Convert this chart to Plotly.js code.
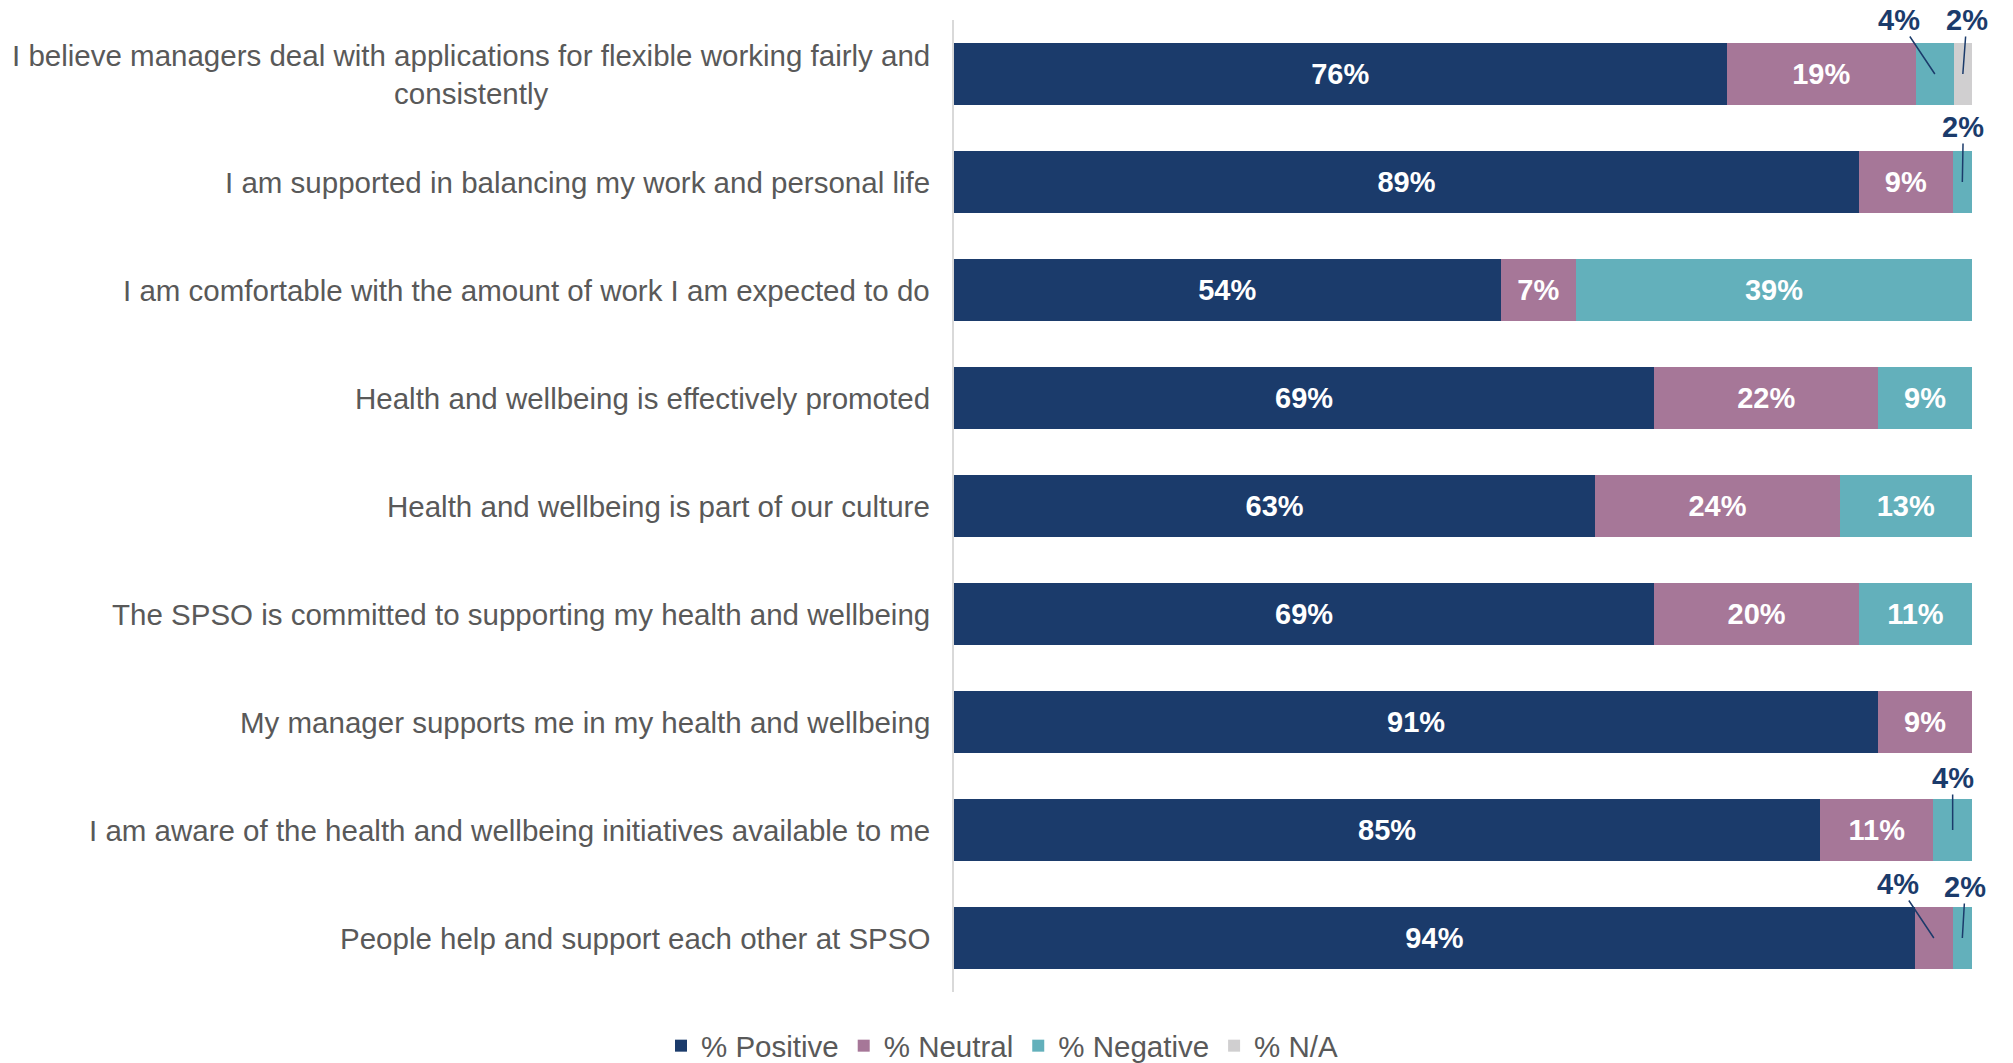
<!DOCTYPE html>
<html>
<head>
<meta charset="utf-8">
<script src="https://cdn.plot.ly/plotly-3.0.1.min.js"></script>
<style>
  html, body { margin: 0; padding: 0; background: #fff; }
  #chart { width: 2013px; height: 1063px; }
</style>
</head>
<body>
<div id="chart"></div>
<script>
// statements, top to bottom
var statements = [
    'I believe managers deal with applications for flexible working fairly and<br>consistently',
    'I am supported in balancing my work and personal life',
    'I am comfortable with the amount of work I am expected to do',
    'Health and wellbeing is effectively promoted',
    'Health and wellbeing is part of our culture',
    'The SPSO is committed to supporting my health and wellbeing',
    'My manager supports me in my health and wellbeing',
    'I am aware of the health and wellbeing initiatives available to me',
    'People help and support each other at SPSO'
];

// shares (labels are the rounded values)
var positive = [75.9, 88.9, 53.7, 68.8, 63.0, 68.8, 90.8, 85.1, 94.4];
var neutral  = [18.6, 9.2, 7.4, 22.0, 24.0, 20.1, 9.2, 11.1, 3.7];
var negative = [3.7, 1.9, 38.9, 9.2, 13.0, 11.1, 0, 3.8, 1.9];
var notApp   = [1.8, 0, 0, 0, 0, 0, 0, 0, 0];

var seriesNames = ['% Positive', '% Neutral', '% Negative', '% N/A'];
var seriesValues = [positive, neutral, negative, notApp];
var seriesColors = ['#1b3b6b', '#a67798', '#63b0bb', '#d0cfd0'];

var labelFont = 'Liberation Sans, Arial, sans-serif';
var small = 5; // segments below this get a callout instead of an inside label

// callout offsets (text position relative to segment centre), by row|series
var calloutOffsets = {
    '0|2': [-36, -54], '0|3': [4, -54],
    '1|2': [1, -55],
    '7|2': [0, -52],
    '8|1': [-36, -54], '8|2': [3, -51]
};

var data = seriesValues.map(function (vals, s) {
    return {
        type: 'bar',
        orientation: 'h',
        name: seriesNames[s],
        x: vals,
        y: statements,
        text: vals.map(v => v >= small ? Math.round(v) + '%' : ''),
        textposition: 'inside',
        insidetextanchor: 'middle',
        constraintext: 'none',
        textfont: {family: labelFont, size: 29, color: '#ffffff', weight: 'bold'},
        marker: {color: seriesColors[s], line: {width: 0}},
        hoverinfo: 'skip'
    };
});

var annotations = [];

// category labels, right aligned against the axis, lines centred
statements.forEach(function (st) {
    annotations.push({
        xref: 'paper', yref: 'y',
        x: 0, y: st,
        xanchor: 'right', yanchor: 'middle',
        xshift: -22,
        align: 'center',
        showarrow: false,
        text: st,
        font: {family: labelFont, size: 29.5, color: '#595959'}
    });
});

// callouts for the thin segments
statements.forEach(function (st, r) {
    var start = 0;
    seriesValues.forEach(function (vals, s) {
        var v = vals[r];
        if (v > 0 && v < small) {
            var off = calloutOffsets[r + '|' + s] || [0, -52];
            annotations.push({
                xref: 'x', yref: 'y',
                x: start + v / 2, y: st,
                ax: off[0], ay: off[1],
                showarrow: true,
                arrowhead: 0,
                arrowwidth: 1.5,
                arrowcolor: '#1b3b6b',
                borderpad: 0,
                text: Math.round(v) + '%',
                font: {family: labelFont, size: 29, color: '#1b3b6b', weight: 'bold'}
            });
        }
        start += v;
    });
});

var layout = {
    width: 2013,
    height: 1063,
    margin: {l: 954, r: 41, t: 20, b: 71, autoexpand: false},
    barmode: 'stack',
    bargap: 0.426,
    paper_bgcolor: '#ffffff',
    plot_bgcolor: '#ffffff',
    font: {family: labelFont, size: 29, color: '#595959'},
    xaxis: {
        range: [0, 100],
        showgrid: false,
        zeroline: false,
        showticklabels: false,
        fixedrange: true
    },
    yaxis: {
        type: 'category',
        range: [statements.length - 0.5, -0.5],
        showgrid: false,
        zeroline: false,
        showticklabels: false,
        showline: true,
        linecolor: '#d9d9d9',
        linewidth: 2,
        fixedrange: true
    },
    showlegend: true,
    legend: {
        orientation: 'h',
        xref: 'container', yref: 'container',
        x: 0.498, y: 0.016,
        xanchor: 'center', yanchor: 'middle',
        font: {family: labelFont, size: 29.5, color: '#595959'},
        traceorder: 'normal',
        itemwidth: 30
    },
    annotations: annotations
};

Plotly.newPlot('chart', data, layout, {displayModeBar: false, staticPlot: true});
</script>
</body>
</html>
